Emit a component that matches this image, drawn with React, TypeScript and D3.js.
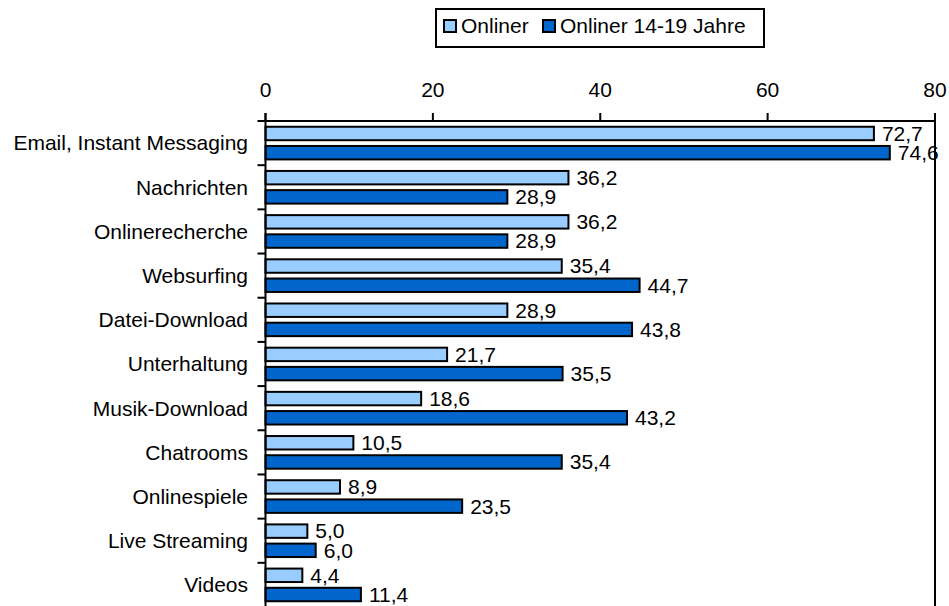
import React from "react";
import * as d3 from "d3";

const categories = [
  "Email, Instant Messaging",
  "Nachrichten",
  "Onlinerecherche",
  "Websurfing",
  "Datei-Download",
  "Unterhaltung",
  "Musik-Download",
  "Chatrooms",
  "Onlinespiele",
  "Live Streaming",
  "Videos",
];
const seriesNames = ["Onliner", "Onliner 14-19 Jahre"];
const onliner = [72.7, 36.2, 36.2, 35.4, 28.9, 21.7, 18.6, 10.5, 8.9, 5.0, 4.4];
const teens = [74.6, 28.9, 28.9, 44.7, 43.8, 35.5, 43.2, 35.4, 23.5, 6.0, 11.4];
const xTicks = [0, 20, 40, 60, 80];
const colors = ["#99CCFF", "#0066CC"];

export default function App() {
  const W = 949;
  const H = 606;
  const FS = 21;
  const x = d3.scaleLinear().domain([0, 80]).range([265.5, 935]);
  const y = d3.scaleBand().domain(categories).range([121, 607]);
  const inner = d3
    .scaleBand()
    .domain(seriesNames)
    .range([0, y.bandwidth()])
    .paddingInner(0.3)
    .paddingOuter(0.3);
  const seriesVals = [onliner, teens];
  const fmt = (v: number) => v.toFixed(1).replace(".", ",");
  const font = "'Liberation Sans', Arial, sans-serif";
  const axisTop = 121;
  const axisBottom = 606;

  return (
    <svg
      width={W}
      height={H}
      style={{ position: "absolute", left: 0, top: 0, background: "#fff" }}
      fontFamily={font}
    >
      {/* Legend */}
      <rect x={436} y={9} width={328} height={38} fill="#fff" stroke="#000" strokeWidth={2} />
      {seriesNames.map((s, i) => {
        const lx = i === 0 ? 443 : 542;
        return (
          <g key={s}>
            <rect x={lx + 1} y={20} width={12} height={12} fill={colors[i]} stroke="#000" strokeWidth={2} />
            <text x={lx + 18} y={33} fontSize={FS} fill="#000">
              {s}
            </text>
          </g>
        );
      })}

      {/* Bars */}
      {categories.map((c, ci) => (
        <g key={c}>
          {seriesNames.map((s, si) => {
            const v = seriesVals[si][ci];
            const by = (y(c) as number) + (inner(s) as number);
            const bh = inner.bandwidth();
            return (
              <g key={s}>
                <rect
                  x={x(0)}
                  y={by}
                  width={x(v) - x(0)}
                  height={bh}
                  fill={colors[si]}
                  stroke="#000"
                  strokeWidth={2}
                />
                <text
                  x={x(v) + 8}
                  y={by + bh / 2}
                  dy="0.35em"
                  fontSize={FS}
                  fill="#000"
                >
                  {fmt(v)}
                </text>
              </g>
            );
          })}
        </g>
      ))}

      {/* X axis (top) */}
      <line x1={x(0)} x2={x(80)} y1={axisTop} y2={axisTop} stroke="#000" strokeWidth={2} />
      {xTicks.map((t) => (
        <g key={t}>
          <line x1={x(t)} x2={x(t)} y1={axisTop - 8} y2={axisTop} stroke="#000" strokeWidth={2} />
          <text x={x(t)} y={97} textAnchor="middle" fontSize={FS} fill="#000">
            {t}
          </text>
        </g>
      ))}

      {/* Right border line */}
      <line x1={x(80)} x2={x(80)} y1={axisTop - 8} y2={axisBottom} stroke="#000" strokeWidth={2} />

      {/* Y axis */}
      <line x1={x(0)} x2={x(0)} y1={axisTop - 8} y2={axisBottom} stroke="#000" strokeWidth={2} />
      {categories.map((c) => (
        <g key={c}>
          <line
            x1={x(0) - 8}
            x2={x(0)}
            y1={y(c) as number}
            y2={y(c) as number}
            stroke="#000"
            strokeWidth={2}
          />
          <text
            x={248}
            y={(y(c) as number) + y.bandwidth() / 2}
            dy="0.35em"
            textAnchor="end"
            fontSize={FS}
            fill="#000"
          >
            {c}
          </text>
        </g>
      ))}
    </svg>
  );
}
